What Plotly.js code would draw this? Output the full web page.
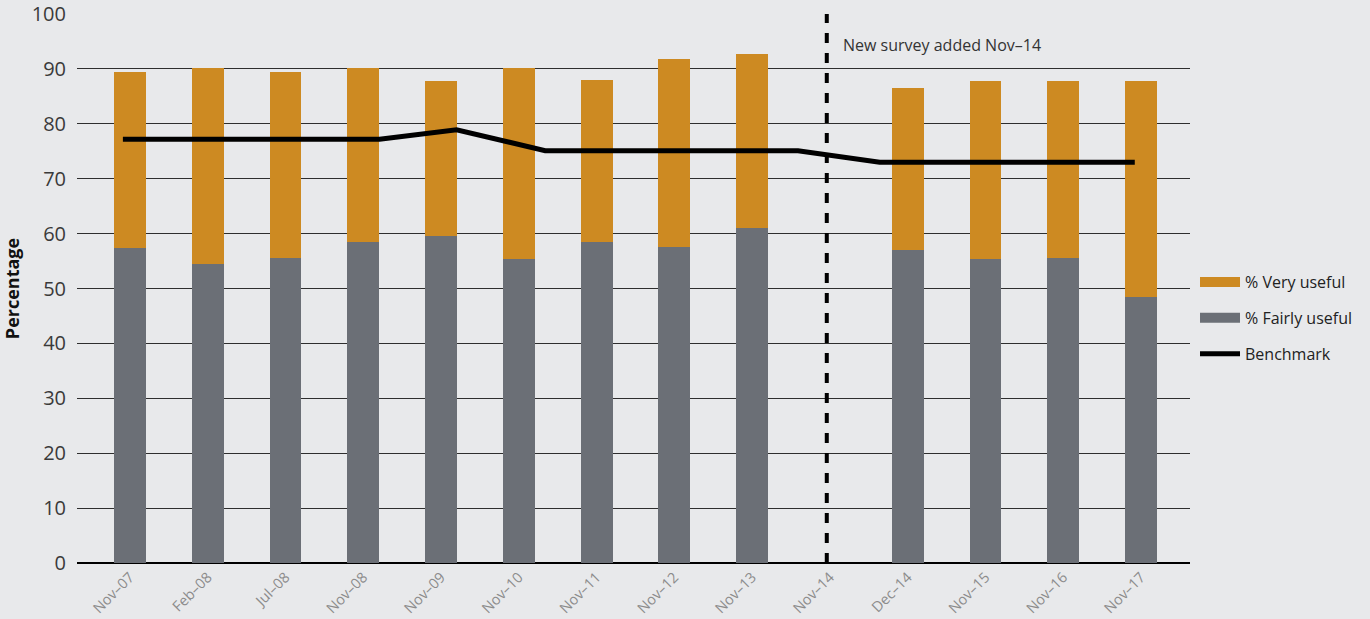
<!DOCTYPE html>
<html>
<head>
<meta charset="utf-8">
<script src="https://cdn.plot.ly/plotly-3.0.1.min.js"></script>
<style>
  html, body { margin: 0; padding: 0; background: #e8e9eb; }
  #chart { width: 1370px; height: 619px; }
</style>
</head>
<body>
<div id="chart"></div>
<script>
// Survey periods shown along the x axis
const categories = ['Nov–07', 'Feb–08', 'Jul–08', 'Nov–08', 'Nov–09', 'Nov–10', 'Nov–11',
                    'Nov–12', 'Nov–13', 'Nov–14', 'Dec–14', 'Nov–15', 'Nov–16', 'Nov–17'];

// Share of respondents (%) by answer; no survey results for Nov–14
const fairlyUseful = [57.4, 54.4, 55.5, 58.4, 59.5, 55.3, 58.4, 57.5, 61.1, null, 57.1, 55.3, 55.5, 48.4];
const veryUseful   = [32.0, 35.8, 33.9, 31.8, 28.3, 34.9, 29.6, 34.3, 31.6, null, 29.5, 32.5, 32.3, 39.4];

// Benchmark line vertices (position along the period axis, percentage)
const benchmarkX = [-0.09, 3.21, 4.20, 5.34, 8.59, 9.64, 12.92];
const benchmarkY = [77.2, 77.2, 78.9, 75.1, 75.1, 73.0, 73.0];

// Period from which the new survey was added
const surveyChange = 'Nov–14';
const surveyNote = 'New survey added Nov–14';

const yTicks = [0, 10, 20, 30, 40, 50, 60, 70, 80, 90, 100];

const ORANGE = '#cd8a22';
const GREY = '#6b6f76';
const BG = '#e8e9eb';
const FONT = '"Open Sans", "Noto Sans", sans-serif';

const xIdx = categories.map((_, i) => i);
const changeIdx = categories.indexOf(surveyChange) - 0.04;

const traces = [
  {
    type: 'bar', x: xIdx, y: fairlyUseful, name: '% Fairly useful',
    marker: { color: GREY }, width: 0.41, showlegend: false, hoverinfo: 'y'
  },
  {
    type: 'bar', x: xIdx, y: veryUseful, name: '% Very useful',
    marker: { color: ORANGE }, width: 0.41, showlegend: false, hoverinfo: 'y'
  },
  {
    type: 'scatter', mode: 'lines', x: benchmarkX, y: benchmarkY, name: 'Benchmark',
    line: { color: '#000000', width: 5 }, showlegend: false
  },
  // Legend entries drawn as wide flat swatches
  {
    type: 'scatter', mode: 'lines', x: [null], y: [null], name: '% Very useful',
    line: { color: ORANGE, width: 11 }, legendgroup: 'a', legendrank: 1, hoverinfo: 'skip'
  },
  {
    type: 'scatter', mode: 'lines', x: [null], y: [null], name: '% Fairly useful',
    line: { color: GREY, width: 11 }, legendgroup: 'b', legendrank: 2, hoverinfo: 'skip'
  },
  {
    type: 'scatter', mode: 'lines', x: [null], y: [null], name: 'Benchmark',
    line: { color: '#000000', width: 5 }, legendgroup: 'c', legendrank: 3, hoverinfo: 'skip'
  }
];

const layout = {
  width: 1370, height: 619,
  paper_bgcolor: BG, plot_bgcolor: BG,
  margin: { l: 77, r: 180, t: 14, b: 56 },
  barmode: 'stack',
  font: { family: FONT, color: '#333333' },
  showlegend: true,
  legend: {
    x: 1.0045, xanchor: 'left', y: 0.446, yanchor: 'middle',
    bgcolor: 'rgba(0,0,0,0)', font: { size: 16, color: '#222222', family: FONT },
    traceorder: 'grouped', tracegroupgap: 12, itemwidth: 40
  },
  xaxis: {
    range: [-0.68, 13.63],
    tickmode: 'array', tickvals: xIdx, ticktext: categories,
    tickangle: -45, tickfont: { size: 14.5, color: '#8c8c8c', family: FONT },
    ticklabelstandoff: 2,
    showgrid: false, zeroline: false, showline: false, ticks: '', fixedrange: true
  },
  yaxis: {
    range: [0, 100],
    tickmode: 'array', tickvals: yTicks,
    tickfont: { size: 20, color: '#3a3a3a', family: FONT },
    ticklabelstandoff: 10,
    showgrid: true, gridcolor: '#2e2e2e', gridwidth: 1,
    zeroline: true, zerolinecolor: '#000000', zerolinewidth: 2.5,
    showline: false, ticks: '', fixedrange: true,
    title: { text: '<b>Percentage</b>', font: { size: 18, color: '#111111', family: FONT }, standoff: 10 }
  },
  shapes: [
    {
      type: 'line', xref: 'x', yref: 'y',
      x0: changeIdx, x1: changeIdx, y0: 0, y1: 100,
      line: { color: '#000000', width: 4, dash: '10px,10px' }
    }
  ],
  annotations: [
    {
      xref: 'x', yref: 'y', x: changeIdx, y: 94.3,
      xanchor: 'left', yanchor: 'middle', xshift: 14,
      text: surveyNote, showarrow: false,
      font: { size: 16, color: '#333333', family: FONT }
    }
  ]
};

Plotly.newPlot('chart', traces, layout, { displayModeBar: false, staticPlot: true });
</script>
</body>
</html>
